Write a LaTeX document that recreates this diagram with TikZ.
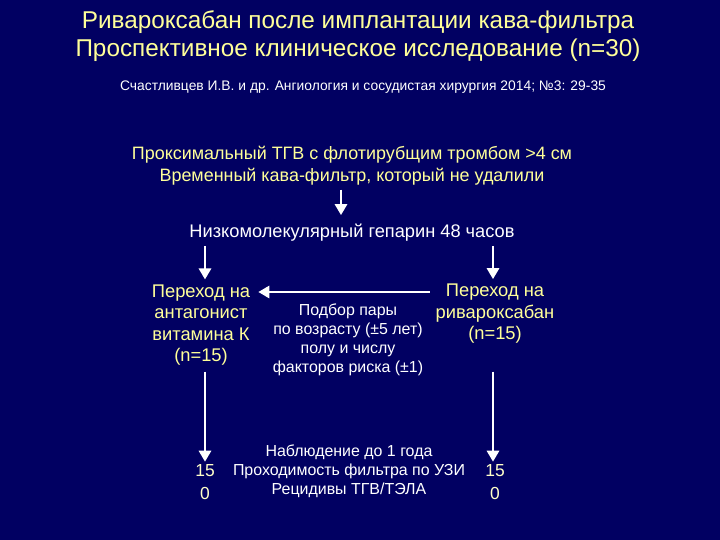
\documentclass[tikz,border=0pt]{standalone}
\usepackage{fontspec}
\setmainfont{Liberation Sans}
\usetikzlibrary{positioning,arrows.meta}
\definecolor{bg}{HTML}{010062}
\definecolor{ttl}{HTML}{FFFF99}
\definecolor{num}{HTML}{FFFFC8}

\begin{document}
\begin{tikzpicture}[x=1bp, y=-1bp,
  title/.style={text=ttl, align=center, inner sep=0pt, font=\fontsize{24.4}{28}\selectfont},
  yel/.style={text=ttl, align=center, inner sep=2pt, font=\fontsize{18.4}{21.5}\selectfont},
  wht/.style={text=white, align=center, inner sep=2pt, font=\fontsize{18.3}{21}\selectfont},
  note/.style={text=white, align=center, inner sep=2pt, font=\fontsize{16}{19}\selectfont},
  cnt/.style={text=num, inner sep=1pt, font=\fontsize{17.5}{20}\selectfont},
  arr/.style={draw=white, line width=2.8bp, -{Triangle[width=12bp,length=11bp]}}]
\fill[bg] (0,0) rectangle (720,540);
\useasboundingbox (0,0) rectangle (720,540);
% heading
\node[title] (head) at (358,36) {Ривароксабан после имплантации кава-фильтра\\Проспективное клиническое исследование (n=30)};
\node[text=white, font=\fontsize{13.9}{15}\selectfont] (ref) at (363,87) {Счастливцев И.В. и др. Ангиология и сосудистая хирургия 2014; №3: 29-35};
% patients
\node[yel, font=\fontsize{18}{22}\selectfont] (pts) at (352,166) {Проксимальный ТГВ с флотирубщим тромбом >4 см\\Временный кава-фильтр, который не удалили};
\node[wht] (lmwh) at (352,233) {Низкомолекулярный гепарин 48 часов};
% two arms
\node[yel] (vka) at (201,325) {Переход на\\антагонист\\витамина К\\(n=15)};
\node[yel] (riva) at (495,314) {Переход на\\ривароксабан\\(n=15)};
\node[note] (pair) at (348,340) {Подбор пары\\по возрасту (\textpm5 лет)\\полу и числу\\факторов риска (\textpm1)};
% follow-up
\node[note] (obs) at (349,471) {Наблюдение до 1 года\\Проходимость фильтра по УЗИ\\Рецидивы ТГВ/ТЭЛА};
\node[cnt] (vka15) at (205,471) {15};
\node[cnt] (vka0) at (205,493) {0};
\node[cnt] (riva15) at (495,471) {15};
\node[cnt] (riva0) at (495,493) {0};
% arrows
\draw[arr, shorten >=7bp] (pts.south -| 341,0) ++(0,2) -- (lmwh.north -| 341,0);
\draw[arr, shorten >=3bp] (lmwh.south -| vka15.north) ++(0,2) -- (vka.north -| vka15.north);
\draw[arr, shorten >=3bp] (lmwh.south -| 493,0) ++(0,2) -- (riva.north -| 493,0);
\draw[arr, shorten <=4bp, shorten >=6bp] (riva.west |- 0,292) -- (vka.east |- 0,292);
\draw[arr, shorten >=2bp] (vka.south -| vka15.north) ++(0,4) -- (vka15.north);
\draw[arr, shorten >=2bp] (vka.south -| 493,0) ++(0,4) -- (riva15.north -| 493,0);
\end{tikzpicture}
\end{document}
